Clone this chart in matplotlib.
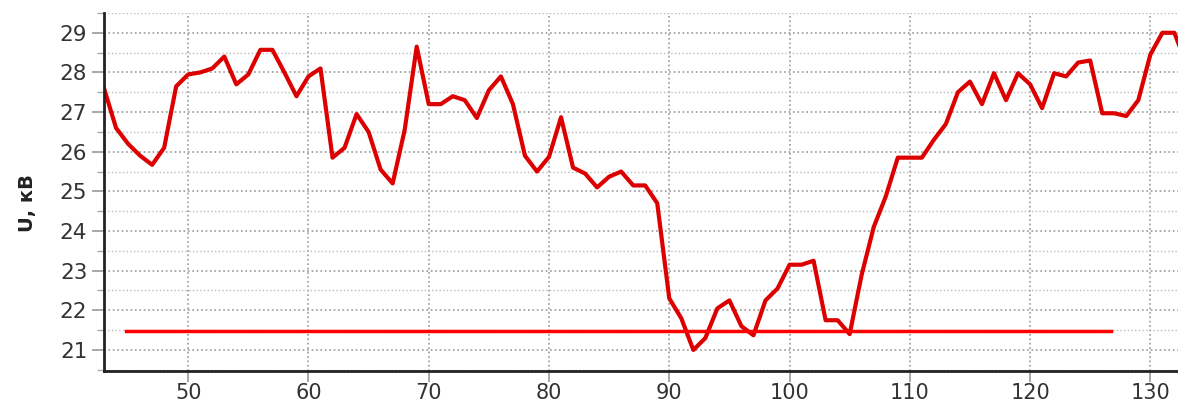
import matplotlib.pyplot as plt
from matplotlib.ticker import MultipleLocator

# Voltage readings (one point per unit on x)
x_vals = list(range(43, 134))
u_vals = [27.6, 26.6, 26.2, 25.9, 25.67, 26.1, 27.65, 27.95, 28.0, 28.1,
          28.4, 27.7, 27.95, 28.57, 28.57, 28.0, 27.4, 27.9, 28.1, 25.85,
          26.1, 26.95, 26.5, 25.55, 25.2, 26.55, 28.65, 27.2, 27.2, 27.4,
          27.3, 26.85, 27.55, 27.9, 27.2, 25.9, 25.5, 25.87, 26.87, 25.6,
          25.45, 25.1, 25.37, 25.5, 25.15, 25.15, 24.7, 22.3, 21.8, 21.0,
          21.3, 22.05, 22.25, 21.6, 21.37, 22.25, 22.55, 23.15, 23.15, 23.25,
          21.75, 21.75, 21.4, 22.9, 24.1, 24.87, 25.85, 25.85, 25.85, 26.3,
          26.7, 27.5, 27.77, 27.2, 27.98, 27.3, 27.98, 27.7, 27.1, 27.98,
          27.9, 28.25, 28.3, 26.97, 26.97, 26.9, 27.3, 28.45, 29.0, 29.0,
          28.2]

# Threshold level
limit_x = [44.8, 126.7]
limit_u = [21.47, 21.47]

fig = plt.figure(figsize=(11.78, 4.05), dpi=100)
ax = fig.add_axes([0.0883, 0.084, 0.9117, 0.884])

ax.plot(x_vals, u_vals, color='#dd0000', linewidth=3.0, solid_joinstyle='round')
ax.plot(limit_x, limit_u, color='#ff0000', linewidth=2.5)

ax.set_xlim(43, 132.3)
ax.set_ylim(20.47, 29.5)

ax.xaxis.set_major_locator(MultipleLocator(10))
ax.yaxis.set_major_locator(MultipleLocator(1))
ax.yaxis.set_minor_locator(MultipleLocator(0.5))

ax.grid(which='major', axis='both', color='#999999', linestyle=':', linewidth=1.2)
ax.grid(which='minor', axis='y', color='#bbbbbb', linestyle=':', linewidth=1.0)

for side in ['top', 'right']:
    ax.spines[side].set_visible(False)
ax.spines['left'].set_linewidth(2)
ax.spines['bottom'].set_linewidth(2)
ax.spines['left'].set_color('#222222')
ax.spines['bottom'].set_color('#222222')

ax.tick_params(axis='y', which='major', labelsize=15.5, labelcolor='#333333',
               color='#999999', length=9, width=1.2, pad=3)
ax.tick_params(axis='x', which='major', labelsize=15, labelcolor='#333333',
               color='#999999', length=8, width=1.2, pad=1)
ax.tick_params(axis='y', which='minor', length=5, color='#aaaaaa', width=1)

ax.set_ylabel('U, кВ', fontsize=14, fontweight='bold', color='#222222')
ax.yaxis.set_label_coords(-0.062, 0.47)

fig.savefig('out.png', dpi=100)
